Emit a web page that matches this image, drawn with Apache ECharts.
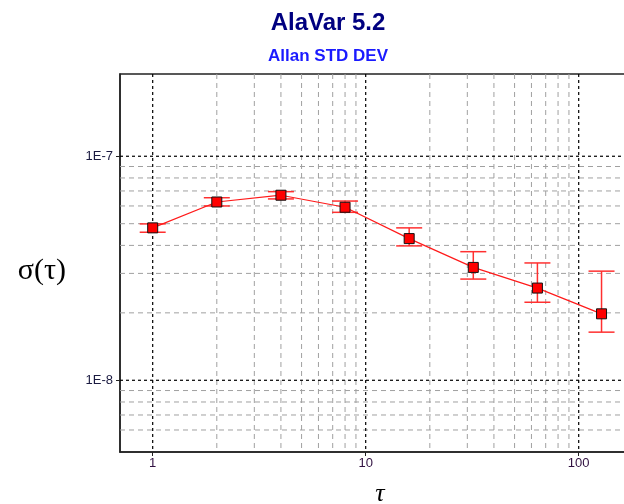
<!DOCTYPE html>
<html>
<head>
<meta charset="utf-8">
<script src="https://cdn.jsdelivr.net/npm/echarts@6/dist/echarts.min.js"></script>
<style>html,body{margin:0;padding:0;background:#fff}#c{width:624px;height:504px}</style>
</head>
<body>
<div id="c"></div>
<script>
// ---- data ----
const tau      = [1, 2, 4, 8, 16, 32, 64, 128];
const sigma    = [4.79e-8, 6.25e-8, 6.70e-8, 5.92e-8, 4.29e-8, 3.19e-8, 2.58e-8, 1.98e-8];
const errHigh  = [4.99e-8, 6.53e-8, 6.95e-8, 6.31e-8, 4.79e-8, 3.75e-8, 3.34e-8, 3.07e-8];
const errLow   = [4.58e-8, 6.00e-8, 6.45e-8, 5.62e-8, 3.98e-8, 2.83e-8, 2.23e-8, 1.64e-8];

const xTicks      = [1, 10, 100];
const xTickLabels = ['1', '10', '100'];
const yTicks      = [1e-8, 1e-7];
const yTickLabels = ['1E-8', '1E-7'];

const xMinorGrid = [2,3,4,5,6,7,8,9,20,30,40,50,60,70,80,90];
const yMinorGrid = [6e-9,7e-9,8e-9,9e-9,2e-8,3e-8,4e-8,5e-8,6e-8,7e-8,8e-8,9e-8];

const xRange = [0.7023, 194.0];
const yRange = [4.785e-9, 2.329e-7];

function labelFor(v, ticks, labels) {
  for (let i = 0; i < ticks.length; i++) {
    if (Math.abs(Math.log10(v) - Math.log10(ticks[i])) < 1e-6) return labels[i];
  }
  return '';
}

const majorStyle = { stroke: '#000', lineWidth: 1.2, lineDash: [3, 3] };
const minorStyle = { stroke: '#a0a0a0', lineWidth: 1, lineDash: [5, 4] };

// gridline items: [value, isMajor]
const vLines = xMinorGrid.map(v => [v, 0]).concat(xTicks.map(v => [v, 1]));
const hLines = yMinorGrid.map(v => [v, 0]).concat(yTicks.map(v => [v, 1]));

const pts = tau.map((t, i) => [t, sigma[i]]);
const errData = tau.map((t, i) => [t, errLow[i], errHigh[i]]);

const chart = echarts.init(document.getElementById('c'), null, { renderer: 'canvas' });
chart.setOption({
  animation: false,
  backgroundColor: '#fff',
  title: [
    { text: 'AlaVar 5.2', left: 323, top: 6, textAlign: 'center',
      textStyle: { fontFamily: 'Liberation Sans, Arial', fontWeight: 'bold', fontSize: 24, color: '#000080' } },
    { text: 'Allan STD DEV', left: 323, top: 43, textAlign: 'center',
      textStyle: { fontFamily: 'Liberation Sans, Arial', fontWeight: 'bold', fontSize: 17, color: '#1a1aff' } }
  ],
  grid: { left: 120, top: 74, width: 520, bottom: 52, outerBoundsMode: 'none', containLabel: false,
          show: true, borderColor: '#222', borderWidth: 1.5, backgroundColor: 'transparent' },
  xAxis: {
    type: 'log', logBase: 10, min: xRange[0], max: xRange[1],
    name: 'τ', nameLocation: 'middle', nameGap: 29,
    nameTextStyle: { fontFamily: 'Liberation Serif, Times New Roman', fontStyle: 'italic', fontSize: 26, color: '#000' },
    axisLine: { show: true, onZero: false, lineStyle: { color: '#222', width: 1.5 } },
    axisTick: { show: true, customValues: xTicks, length: 4, inside: false, lineStyle: { color: '#222' } },
    axisLabel: { show: true, customValues: xTicks, margin: 5, fontFamily: 'Liberation Sans, Arial', fontSize: 13, color: '#301040',
      formatter: v => labelFor(v, xTicks, xTickLabels) },
    splitLine: { show: false }, minorTick: { show: false }, minorSplitLine: { show: false }
  },
  yAxis: {
    type: 'log', logBase: 10, min: yRange[0], max: yRange[1],
    name: '\nσ(τ)', nameLocation: 'middle', nameGap: 54, nameRotate: 0,
    nameTextStyle: { fontFamily: 'Liberation Serif, Times New Roman', fontSize: 30, color: '#000', lineHeight: 16 },
    axisLine: { show: true, onZero: false, lineStyle: { color: '#222', width: 1.5 } },
    axisTick: { show: true, customValues: yTicks, length: 4, inside: false, lineStyle: { color: '#222' } },
    axisLabel: { show: true, customValues: yTicks, margin: 7, fontFamily: 'Liberation Sans, Arial', fontSize: 13, color: '#1a1a40',
      formatter: v => labelFor(v, yTicks, yTickLabels) },
    splitLine: { show: false }, minorTick: { show: false }, minorSplitLine: { show: false }
  },
  series: [
    {
      type: 'custom', z: 1, silent: true, clip: true,
      data: vLines.map(d => [d[0], yRange[0], d[1]]),
      renderItem: function (params, api) {
        const cs = params.coordSys;
        const p = api.coord([api.value(0), api.value(1)]);
        return { type: 'line', shape: { x1: p[0], y1: cs.y, x2: p[0], y2: cs.y + cs.height },
                 style: api.value(2) ? majorStyle : minorStyle, z2: api.value(2) ? 2 : 1 };
      }
    },
    {
      type: 'custom', z: 1, silent: true, clip: true,
      data: hLines.map(d => [xRange[0], d[0], d[1]]),
      renderItem: function (params, api) {
        const cs = params.coordSys;
        const p = api.coord([api.value(0), api.value(1)]);
        return { type: 'line', shape: { x1: cs.x, y1: p[1], x2: cs.x + cs.width, y2: p[1] },
                 style: api.value(2) ? majorStyle : minorStyle, z2: api.value(2) ? 2 : 1 };
      }
    },
    {
      type: 'custom', z: 2, silent: true, data: errData,
      renderItem: function (params, api) {
        const x = api.value(0);
        const lo = api.coord([x, api.value(1)]);
        const hi = api.coord([x, api.value(2)]);
        const hw = 13;
        const st = { stroke: '#ff3030', lineWidth: 1.5 };
        return { type: 'group', children: [
          { type: 'line', shape: { x1: lo[0], y1: lo[1], x2: hi[0], y2: hi[1] }, style: st },
          { type: 'line', shape: { x1: lo[0] - hw, y1: lo[1], x2: lo[0] + hw, y2: lo[1] }, style: st },
          { type: 'line', shape: { x1: hi[0] - hw, y1: hi[1], x2: hi[0] + hw, y2: hi[1] }, style: st }
        ]};
      }
    },
    {
      type: 'line', data: pts, z: 3, silent: true,
      symbol: 'rect', symbolSize: 10, showAllSymbol: true,
      lineStyle: { color: '#ff1a1a', width: 1.2 },
      itemStyle: { color: '#ff0000', borderColor: '#111', borderWidth: 1 }
    }
  ]
});
</script>
</body>
</html>
